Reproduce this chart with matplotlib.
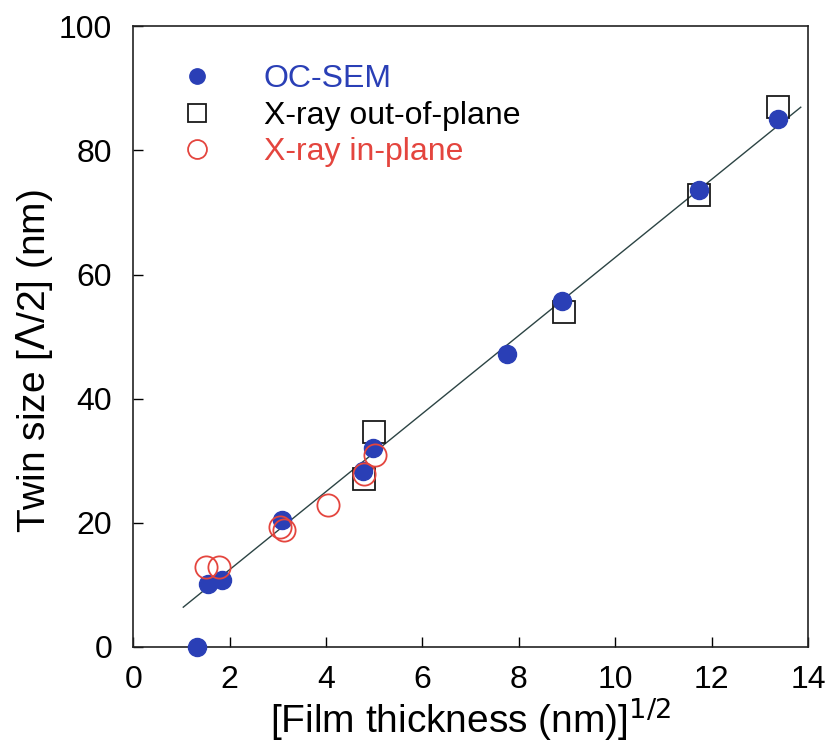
import matplotlib
matplotlib.use("Agg")
import matplotlib.pyplot as plt
import numpy as np

plt.rcParams["font.family"] = ["Liberation Sans", "DejaVu Sans"]

# OC-SEM measurements
sem_x = [1.33, 1.56, 1.84, 3.09, 4.76, 4.98, 7.76, 8.90, 11.74, 13.38]
sem_y = [0.0, 10.1, 10.8, 20.5, 28.3, 32.0, 47.2, 55.7, 73.7, 85.0]

# X-ray out-of-plane
oop_x = [4.78, 5.00, 8.94, 11.74, 13.38]
oop_y = [27.0, 34.6, 53.9, 72.8, 87.0]

# X-ray in-plane
inp_x = [1.52, 1.78, 3.04, 3.12, 4.05, 4.78, 5.02]
inp_y = [12.8, 12.8, 19.3, 18.9, 22.9, 27.9, 30.9]

# linear fit through all sets
fit_slope = 6.29
fit_intercept = -0.15
fit_range = [1.04, 13.85]

sem_color = "#2a3fb6"
inp_color = "#e4453e"

fig = plt.figure(figsize=(8.27, 7.53), dpi=100)
ax = fig.add_axes([0.161, 0.141, 0.816, 0.824])

fx = np.array(fit_range)
ax.plot(fx, fit_slope * fx + fit_intercept, color="#2c4444", lw=1.0, zorder=1)

ax.plot(oop_x, oop_y, ls="none", marker="s", ms=16, mfc="none", mec="#1a1a1a",
        mew=1.3, label="X-ray out-of-plane", zorder=2)
ax.plot(sem_x, sem_y, ls="none", marker="o", ms=13, mfc=sem_color, mec=sem_color,
        label="OC-SEM", zorder=3, clip_on=False)
ax.plot(inp_x, inp_y, ls="none", marker="o", ms=16, mfc="none", mec=inp_color,
        mew=1.3, label="X-ray in-plane", zorder=4)

handles, labels = ax.get_legend_handles_labels()
order = [1, 0, 2]
ax.legend([handles[i] for i in order], [labels[i] for i in order],
          loc="upper left", bbox_to_anchor=(0.023, 0.985), frameon=False,
          fontsize=23, handletextpad=1.5, labelspacing=0.2, markerscale=0.85,
          numpoints=1, handlelength=1.2,
          labelcolor=[sem_color, "black", inp_color])

ax.set_xlim(0, 14)
ax.set_ylim(0, 100)
ax.set_xticks(np.arange(0, 15, 2))
ax.set_yticks(np.arange(0, 101, 20))
ax.tick_params(direction="in", length=7, width=1.0, labelsize=23,
               top=False, right=False)
ax.tick_params(axis="x", pad=13)
ax.tick_params(axis="y", pad=15)
for s in ax.spines.values():
    s.set_linewidth(1.2)
    s.set_color("#222222")

ax.set_xlabel("[Film thickness (nm)]$^{1/2}$", fontsize=28, labelpad=0)
ax.set_ylabel("Twin size [$\\Lambda$/2] (nm)", fontsize=28)
ax.yaxis.set_label_coords(-0.116, 0.46)

fig.savefig("out.png", dpi=100)
